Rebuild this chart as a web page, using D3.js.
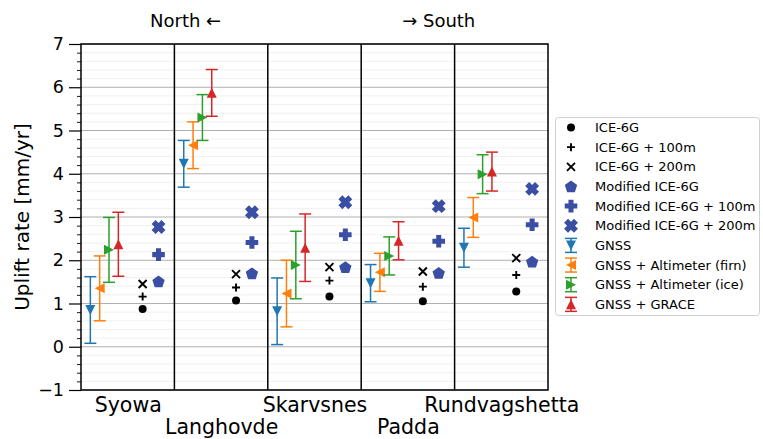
<!DOCTYPE html>
<html>
<head>
<meta charset="utf-8">
<script src="https://cdn.jsdelivr.net/npm/d3@7"></script>
<style>
  html, body { margin: 0; padding: 0; background: #fff; }
  svg { display: block; font-family: "DejaVu Sans", sans-serif; }
</style>
</head>
<body>
<svg id="chart" width="763" height="439"></svg>
<script>
// Stations, ordered north to south
const stations = ["Syowa", "Langhovde", "Skarvsnes", "Padda", "Rundvagshetta"];

// Observed uplift rates with 1-sigma errors [mm/yr]
const gnss      = [0.85, 4.23, 0.82, 1.47, 2.29];
const gnssErr   = [0.77, 0.54, 0.77, 0.43, 0.45];
const firn      = [1.35, 4.66, 1.23, 1.72, 2.99];
const firnErr   = [0.75, 0.54, 0.77, 0.44, 0.46];
const iceObs    = [2.24, 5.30, 1.89, 2.10, 3.99];
const iceObsErr = [0.75, 0.53, 0.78, 0.44, 0.45];
const grace     = [2.37, 5.87, 2.29, 2.45, 4.05];
const graceErr  = [0.74, 0.54, 0.78, 0.44, 0.45];

// GIA model predictions [mm/yr]
const ice6g       = [0.87, 1.07, 1.16, 1.05, 1.28];
const ice6g100    = [1.16, 1.37, 1.53, 1.39, 1.66];
const ice6g200    = [1.45, 1.68, 1.84, 1.74, 2.05];
const modIce6g    = [1.51, 1.70, 1.84, 1.71, 1.97];
const modIce6g100 = [2.13, 2.41, 2.59, 2.44, 2.82];
const modIce6g200 = [2.77, 3.11, 3.34, 3.25, 3.65];

const yTicks = [-1, 0, 1, 2, 3, 4, 5, 6, 7];

const svg = d3.select("#chart");
const plotL = 81, plotR = 548, plotT = 44, plotB = 390;

const x = d3.scaleLinear().domain([-0.5, stations.length - 0.5]).range([plotL, plotR]);
const y = d3.scaleLinear().domain([-1, 7]).range([plotB, plotT]);

const modelBlue = "#3a4fa3";

// ---- marker shapes (r = half size in px) ----
function tri(dir, r) {
  const pts = {
    down:  [[0, r], [-r, -r], [r, -r]],
    up:    [[0, -r], [-r, r], [r, r]],
    left:  [[-r, 0], [r, -r], [r, r]],
    right: [[r, 0], [-r, -r], [-r, r]]
  }[dir];
  return "M" + pts.map(p => p.join(",")).join("L") + "Z";
}
function pentagon(r) {
  const pts = d3.range(5).map(i => {
    const a = -Math.PI / 2 + i * 2 * Math.PI / 5;
    return [r * Math.cos(a), r * Math.sin(a) + r * 0.1];
  });
  return "M" + pts.map(p => p.join(",")).join("L") + "Z";
}
function plusFilled(r) {
  const w = r * 0.4;
  const pts = [[-w, -r], [w, -r], [w, -w], [r, -w], [r, w], [w, w], [w, r], [-w, r], [-w, w], [-r, w], [-r, -w], [-w, -w]];
  return "M" + pts.map(p => p.join(",")).join("L") + "Z";
}

function drawErrorbar(g, cx, cy, lo, hi, color, shape) {
  g.append("line").attr("x1", cx).attr("x2", cx).attr("y1", lo).attr("y2", hi)
    .attr("stroke", color).attr("stroke-width", 1.5);
  [lo, hi].forEach(v => g.append("line").attr("x1", cx - 6).attr("x2", cx + 6)
    .attr("y1", v).attr("y2", v).attr("stroke", color).attr("stroke-width", 1.5));
  g.append("path").attr("d", tri(shape, 5)).attr("transform", `translate(${cx},${cy})`)
    .attr("fill", color);
}

function drawModelMarker(g, cx, cy, kind) {
  const t = `translate(${cx},${cy})`;
  if (kind === "circle") {
    g.append("circle").attr("cx", cx).attr("cy", cy).attr("r", 4).attr("fill", "#000");
  } else if (kind === "plus") {
    g.append("path").attr("d", "M-4,0H4M0,-4V4").attr("transform", t)
      .attr("stroke", "#000").attr("stroke-width", 1.9);
  } else if (kind === "cross") {
    g.append("path").attr("d", "M-4,-4L4,4M-4,4L4,-4").attr("transform", t)
      .attr("stroke", "#000").attr("stroke-width", 1.9);
  } else if (kind === "pentagon") {
    g.append("path").attr("d", pentagon(6.5)).attr("transform", t).attr("fill", modelBlue);
  } else if (kind === "plusFilled") {
    g.append("path").attr("d", plusFilled(6.3)).attr("transform", t).attr("fill", modelBlue);
  } else if (kind === "xFilled") {
    g.append("path").attr("d", plusFilled(7)).attr("transform", t + " rotate(45)").attr("fill", modelBlue);
  }
}

// ---- grid ----
const minorTicks = d3.range(-1, 7.0001, 0.2).filter(v => Math.abs(v - Math.round(v)) > 1e-6);
svg.append("g").selectAll("line").data(minorTicks).join("line")
  .attr("x1", plotL).attr("x2", plotR)
  .attr("y1", d => y(d)).attr("y2", d => y(d))
  .attr("stroke", "#ececec").attr("stroke-width", 0.8);
svg.append("g").selectAll("line").data(yTicks).join("line")
  .attr("x1", plotL).attr("x2", plotR)
  .attr("y1", d => y(d)).attr("y2", d => y(d))
  .attr("stroke", "#b0b0b0").attr("stroke-width", 1);

// station separators
svg.append("g").selectAll("line").data(d3.range(0.5, stations.length - 0.5, 1)).join("line")
  .attr("x1", d => x(d)).attr("x2", d => x(d))
  .attr("y1", plotT).attr("y2", plotB)
  .attr("stroke", "#000").attr("stroke-width", 1.5);

// ---- y axis ----
const yAxis = svg.append("g").attr("transform", `translate(${plotL},0)`)
  .call(d3.axisLeft(y).tickValues(yTicks).tickSize(12).tickPadding(5).tickFormat(d3.format("d")));
yAxis.select(".domain").remove();
yAxis.selectAll(".tick line").attr("stroke", "#000").attr("stroke-width", 1.2);
yAxis.selectAll("text").attr("font-size", 17.5).attr("fill", "#000")
  .attr("font-family", "DejaVu Sans, sans-serif");
const yMinor = svg.append("g").attr("transform", `translate(${plotL},0)`)
  .call(d3.axisLeft(y).tickValues(minorTicks).tickSize(4).tickFormat(""));
yMinor.select(".domain").remove();
yMinor.selectAll(".tick line").attr("stroke", "#000").attr("stroke-width", 0.9);

svg.append("text")
  .attr("transform", `translate(22,${(plotT + plotB) / 2}) rotate(-90)`)
  .attr("text-anchor", "middle").attr("dominant-baseline", "central")
  .attr("font-size", 20).text("Uplift rate [mm/yr]");

// ---- x axis (station names on two staggered rows) ----
const xAxis = svg.append("g").attr("transform", `translate(0,${plotB})`)
  .call(d3.axisBottom(x).tickValues(d3.range(stations.length)).tickSize(0).tickPadding(0)
    .tickFormat(i => stations[i]));
xAxis.select(".domain").remove();
xAxis.selectAll("text").attr("font-size", 20.5).attr("fill", "#000")
  .attr("font-family", "DejaVu Sans, sans-serif")
  .attr("dy", null)
  .attr("y", (d, i) => i % 2 === 0 ? 22 : 44);

// ---- frame ----
svg.append("rect").attr("x", plotL).attr("y", plotT)
  .attr("width", plotR - plotL).attr("height", plotB - plotT)
  .attr("fill", "none").attr("stroke", "#000").attr("stroke-width", 1.5);

// ---- direction hints ----
svg.append("text").attr("x", x(0.62)).attr("y", 26.5).attr("text-anchor", "middle")
  .attr("font-size", 18).text("North ←");
svg.append("text").attr("x", x(3.33)).attr("y", 26.5).attr("text-anchor", "middle")
  .attr("font-size", 18).text("→ South");

// ---- data ----
const obsSeries = [
  { name: "GNSS", vals: gnss, err: gnssErr, color: "#1f77b4", shape: "down", off: -0.4 },
  { name: "GNSS + Altimeter (firn)", vals: firn, err: firnErr, color: "#ff7f0e", shape: "left", off: -0.3 },
  { name: "GNSS + Altimeter (ice)", vals: iceObs, err: iceObsErr, color: "#2ca02c", shape: "right", off: -0.2 },
  { name: "GNSS + GRACE", vals: grace, err: graceErr, color: "#d62728", shape: "up", off: -0.1 }
];
const modelSeries = [
  { name: "ICE-6G", vals: ice6g, kind: "circle", off: 0.16 },
  { name: "ICE-6G + 100m", vals: ice6g100, kind: "plus", off: 0.16 },
  { name: "ICE-6G + 200m", vals: ice6g200, kind: "cross", off: 0.16 },
  { name: "Modified ICE-6G", vals: modIce6g, kind: "pentagon", off: 0.33 },
  { name: "Modified ICE-6G + 100m", vals: modIce6g100, kind: "plusFilled", off: 0.33 },
  { name: "Modified ICE-6G + 200m", vals: modIce6g200, kind: "xFilled", off: 0.33 }
];

const marks = svg.append("g");
obsSeries.forEach(s => {
  s.vals.forEach((v, i) => {
    drawErrorbar(marks, x(i + s.off), y(v), y(v - s.err[i]), y(v + s.err[i]), s.color, s.shape);
  });
});
modelSeries.forEach(s => {
  s.vals.forEach((v, i) => drawModelMarker(marks, x(i + s.off), y(v), s.kind));
});

// ---- legend ----
const leg = svg.append("g");
leg.append("rect").attr("x", 555.5).attr("y", 117.5).attr("width", 204).attr("height", 198)
  .attr("rx", 3).attr("fill", "#fff").attr("stroke", "#d0d0d0").attr("stroke-width", 1);
const rowY = i => 127.5 + i * 19.65;
const mx = 571;
modelSeries.forEach((s, i) => {
  drawModelMarker(leg, mx, rowY(i), s.kind);
  leg.append("text").attr("x", 595).attr("y", rowY(i)).attr("dy", "0.36em")
    .attr("font-size", 13).text(s.name);
});
obsSeries.forEach((s, j) => {
  const i = j + modelSeries.length;
  drawErrorbar(leg, mx, rowY(i), rowY(i) + 7, rowY(i) - 7, s.color, s.shape);
  leg.append("text").attr("x", 595).attr("y", rowY(i)).attr("dy", "0.36em")
    .attr("font-size", 13).text(s.name);
});
</script>
</body>
</html>
